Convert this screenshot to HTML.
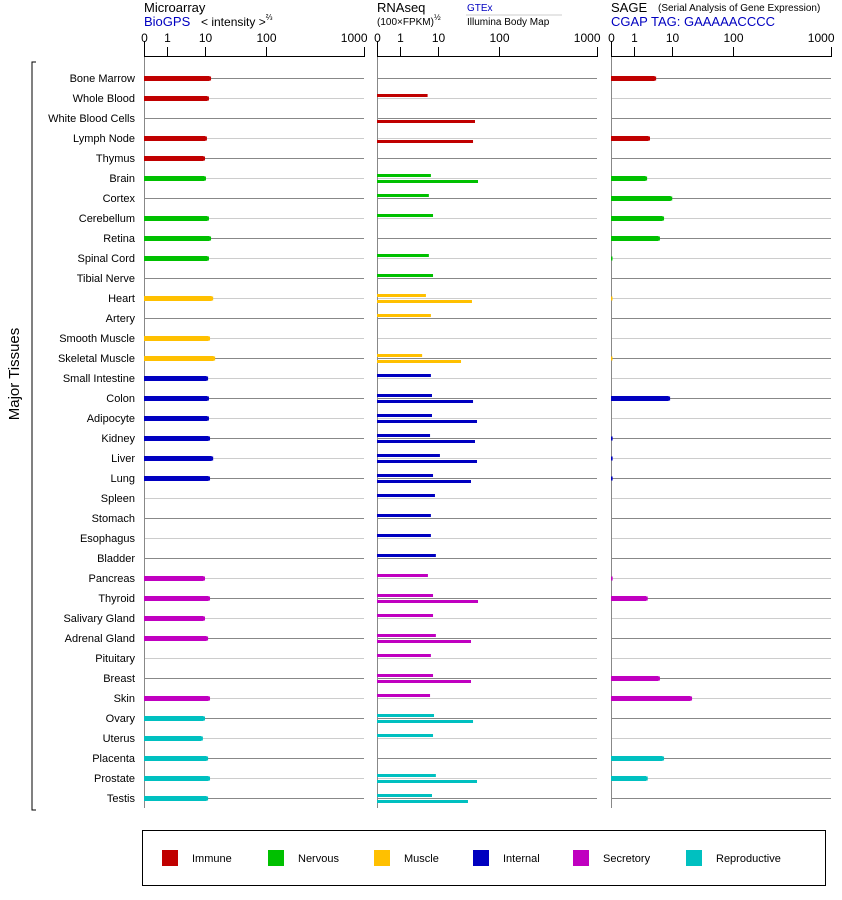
<!DOCTYPE html>
<html><head><meta charset="utf-8"><style>
body{margin:0;background:#fff;}
svg{display:block;font-family:"Liberation Sans",Arial,sans-serif;}
</style></head><body>
<svg id="chart" width="842" height="900" viewBox="0 0 842 900" xmlns="http://www.w3.org/2000/svg">
  <g>
    <text x="144" y="12" font-size="13">Microarray</text>
    <text x="144" y="26" font-size="13" fill="#0000c0">BioGPS</text>
    <text x="201" y="26" font-size="12">&lt; intensity &gt;<tspan font-size="8" dy="-6">⅔</tspan></text>
    <text x="377" y="12" font-size="13">RNAseq</text>
    <text x="377" y="25" font-size="10">(100×FPKM)<tspan font-size="8" dy="-5">½</tspan></text>
    <text x="467" y="11" font-size="10" fill="#0000c0">GTEx</text>
    <line x1="466" y1="15" x2="562" y2="15" stroke="#ccc" stroke-width="1"/>
    <text x="467" y="25" font-size="10">Illumina Body Map</text>
    <text x="611" y="12" font-size="13">SAGE</text>
    <text x="658" y="11" font-size="10">(Serial Analysis of Gene Expression)</text>
    <text x="611" y="26" font-size="13" fill="#0000c0">CGAP TAG: GAAAAACCCC</text>
  </g>
  <g id="panels"></g>
  <g>
    <path d="M36 62 H32 V810 H36" fill="none" stroke="#000" stroke-width="1"/>
    <text x="19" y="374" font-size="15" text-anchor="middle" transform="rotate(-90 19 374)">Major Tissues</text>
  </g>
  <g id="legend">
    <rect x="142.5" y="830.5" width="683" height="55" fill="none" stroke="#000" stroke-width="1"/>
  </g>
</svg>
<script>
const tissues = ["Bone Marrow","Whole Blood","White Blood Cells","Lymph Node","Thymus","Brain","Cortex","Cerebellum","Retina","Spinal Cord","Tibial Nerve","Heart","Artery","Smooth Muscle","Skeletal Muscle","Small Intestine","Colon","Adipocyte","Kidney","Liver","Lung","Spleen","Stomach","Esophagus","Bladder","Pancreas","Thyroid","Salivary Gland","Adrenal Gland","Pituitary","Breast","Skin","Ovary","Uterus","Placenta","Prostate","Testis"];
const groupOf = [0,0,0,0,0,1,1,1,1,1,1,2,2,2,2,3,3,3,3,3,3,3,3,3,3,4,4,4,4,4,4,4,5,5,5,5,5];
const groupNames = ["Immune","Nervous","Muscle","Internal","Secretory","Reproductive"];
const groupColors = ["#c00000","#00c000","#ffc000","#0000c0","#c000c0","#00c0c0"];
const microarray = [12.7,11.7,null,10.8,10,10.4,null,11.7,12.7,11.7,null,13.8,null,12.2,14.9,11.3,11.7,11.7,12.2,13.8,12.2,null,null,null,null,10,12.2,10,11.3,null,null,12.2,10,9,11.3,12.2,11.3];
const gtex = [null,5.9,null,null,null,7.0,6.3,7.8,null,6.3,7.8,5.4,7.0,null,4.4,7.0,7.4,7.4,6.7,10.8,7.8,8.6,7.0,7.0,9.0,6.0,7.8,7.8,9.0,7.0,7.8,6.7,8.2,7.8,null,9.0,7.4];
const illumina = [null,null,41.2,38.3,null,46.1,null,null,null,null,null,36.8,null,null,24.4,null,38.3,44.4,41.2,44.4,35.5,null,null,null,null,null,46.1,null,35.5,null,35.5,null,38.3,null,null,44.4,31.7];
const sage = [4.4,null,null,3.1,null,2.6,10.1,6.7,5.4,0.04,null,0.03,null,null,0.03,null,9.1,null,0.05,0.05,0.05,null,null,null,null,0.05,2.7,null,null,null,5.4,21.8,null,null,6.7,2.7,null];
const tickValues = [0,1,10,100,1000];
const tickLabels = ["0","1","10","100","1000"];
const tickOffsets = [0,23,61,122,220];

const NS = "http://www.w3.org/2000/svg";
function mk(tag, attrs, parent){const e=document.createElementNS(NS,tag);for(const k in attrs)e.setAttribute(k,attrs[k]);parent.appendChild(e);return e;}
function xOff(v){
  const t=Math.log10(1+v);
  for(let i=0;i<tickValues.length-1;i++){
    const a=Math.log10(1+tickValues[i]), b=Math.log10(1+tickValues[i+1]);
    if(t<=b) return tickOffsets[i]+(t-a)/(b-a)*(tickOffsets[i+1]-tickOffsets[i]);
  }
  return tickOffsets[tickOffsets.length-1];
}
function yRow(i){return 78+20*i;}

const panels = document.getElementById("panels");
const panelX = [144,377,611];
const panelNames = ["microarray-panel","rnaseq-panel","sage-panel"];

panelX.forEach((x0,p)=>{
  const g = mk("g",{},panels);
  
  
  tissues.forEach((t,i)=>{
    const l = mk("line",{x1:x0,x2:x0+220,y1:yRow(i)+0.5,y2:yRow(i)+0.5,stroke:i%2===0?"#888":"#ccc","stroke-width":1},g);
    
    
  });
  mk("line",{x1:x0+0.5,x2:x0+0.5,y1:57,y2:808,stroke:"#888","stroke-width":1},g);
  const ax = mk("g",{},g);
  
  
  mk("line",{x1:x0,x2:x0+220,y1:56.5,y2:56.5,stroke:"#000","stroke-width":1},ax);
  tickValues.forEach((v,k)=>{
    const tx = x0+xOff(v)+0.5;
    mk("line",{x1:tx,x2:tx,y1:k===0?41:47,y2:57,stroke:"#000","stroke-width":1},ax);
    const lab = mk("text",{x:tx,y:42,"font-size":12,"text-anchor":k===4?"end":"middle"},ax);
    if(k===4) lab.setAttribute("x", tx+3);
    lab.textContent = tickLabels[k];
    
    
  });
  tissues.forEach((t,i)=>{
    const col = groupColors[groupOf[i]];
    const y = yRow(i);
    if(p===0 || p===2){
      const v = p===0?microarray[i]:sage[i];
      if(v!==null){
        const w = Math.max(1.5,xOff(v));
        if(w>3){
          const b = mk("rect",{x:x0,y:y-2,width:w-1.5,height:5,fill:col},g);
          
          
          mk("rect",{x:x0+w-2,y:y-1.5,width:2,height:4,fill:col},g);
        } else {
          const b = mk("rect",{x:x0,y:y-1.5,width:w,height:4,fill:col},g);
          
          
        }
      }
    } else {
      if(gtex[i]!==null){
        const b = mk("rect",{x:x0,y:y-4,width:xOff(gtex[i]),height:3,fill:col},g);
        
        
      }
      if(illumina[i]!==null){
        const b = mk("rect",{x:x0,y:y+2,width:xOff(illumina[i]),height:3,fill:col},g);
        
        
      }
    }
  });
});
tissues.forEach((t,i)=>{
  const tl = mk("text",{x:135,y:yRow(i)+4,"font-size":11,"text-anchor":"end"},panels);
  tl.textContent = t;
  
  
});
const legend = document.getElementById("legend");
const legendX = [162,268,374,473,573,686];
groupNames.forEach((n,k)=>{
  const e = mk("g",{},legend);
  
  
  mk("rect",{x:legendX[k],y:850,width:16,height:16,fill:groupColors[k]},e);
  const tx = mk("text",{x:legendX[k]+30,y:862,"font-size":11},e);
  tx.textContent = n;
});
</script>
</body></html>
